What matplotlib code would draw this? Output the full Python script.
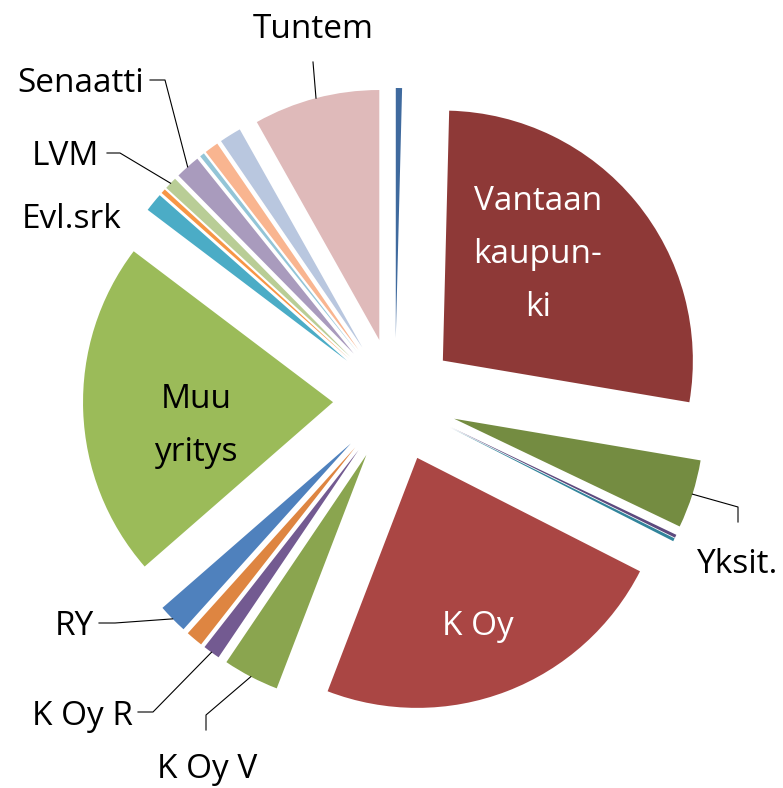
import matplotlib
matplotlib.use("Agg")
import matplotlib.pyplot as plt
import numpy as np

# slices clockwise from 12 o'clock, shares in percent
owners = ["", "Vantaan\nkaupun-\nki", "Yksit.", "", "", "K Oy", "K Oy V", "K Oy R", "", "RY",
          "Muu\nyritys", "Evl.srk", "", "LVM", "Senaatti", "", "", "", "Tuntem"]
shares = [0.4, 27.1, 4.4, 0.2, 0.2, 23.2, 3.6, 1.1, 1.1, 1.9,
          21.6, 1.2, 0.3, 0.8, 1.6, 0.3, 0.9, 1.4, 8.1]
colors = ["#3F6A9E", "#8E3937", "#748C41", "#5E4A7E", "#31849B", "#AA4644", "#8AA54F",
          "#735A91", "#DE8541", "#4F81BD", "#9BBB59", "#4BACC6", "#F79646", "#B9CD96",
          "#A99BBD", "#93C5D7", "#F9B590", "#B9C7DF", "#DFBABA"]

W, H = 783, 788  # work in pixels, y pointing down
CENTER = (395, 400)
RADIUS = 250
EXPLODE = 62
LINE_STEP = 53

# label placement: (x centre, first baseline) and leader elbow points
inside = {
    "Vantaan\nkaupun-\nki": ((538, 210), "white"),
    "K Oy": ((478, 635), "white"),
    "Muu\nyritys": ((196, 408), "black"),
}
outside = {
    "Tuntem": ((313, 38), [(313, 62)]),
    "Senaatti": ((81, 92), [(150, 80), (165, 80)]),
    "LVM": ((65, 165), [(107, 153), (120, 153)]),
    "Evl.srk": ((72, 228), []),
    "RY": ((74, 635), [(99, 623), (115, 623)]),
    "K Oy R": ((82, 725), [(138, 712), (153, 712)]),
    "K Oy V": ((207, 778), [(206, 730), (206, 715)]),
    "Yksit.": ((738, 573), [(738, 522), (738, 507)]),
}

plt.rcParams["font.family"] = ["Open Sans", "DejaVu Sans"]
fig = plt.figure(figsize=(W / 100, H / 100), dpi=100)
ax = fig.add_axes([0, 0, 1, 1])
# y axis is flipped, so counterclock from -90 draws clockwise from the top
wedges, _ = ax.pie(shares, colors=colors, explode=[EXPLODE] * len(shares),
                   center=CENTER, radius=RADIUS, startangle=-90, counterclock=True,
                   wedgeprops=dict(linewidth=0))
ax.set_xlim(0, W)
ax.set_ylim(H, 0)
ax.axis("off")


def put_text(label, x, y0, color):
    for i, line in enumerate(label.split("\n")):
        ax.text(x, y0 + i * LINE_STEP, line, ha="center", va="baseline",
                fontsize=24, color=color)


for w, name in zip(wedges, owners):
    if not name:
        continue
    if name in inside:
        (x, y), col = inside[name]
        put_text(name, x, y, col)
        continue
    (x, y), elbow = outside[name]
    put_text(name, x, y, "black")
    if elbow:
        mid = np.deg2rad((w.theta1 + w.theta2) / 2)
        tip = (w.center[0] + w.r * np.cos(mid), w.center[1] + w.r * np.sin(mid))
        pts = elbow + [tip]
        ax.plot([p[0] for p in pts], [p[1] for p in pts], color="black", lw=0.8)

fig.savefig("out.png", dpi=100)
